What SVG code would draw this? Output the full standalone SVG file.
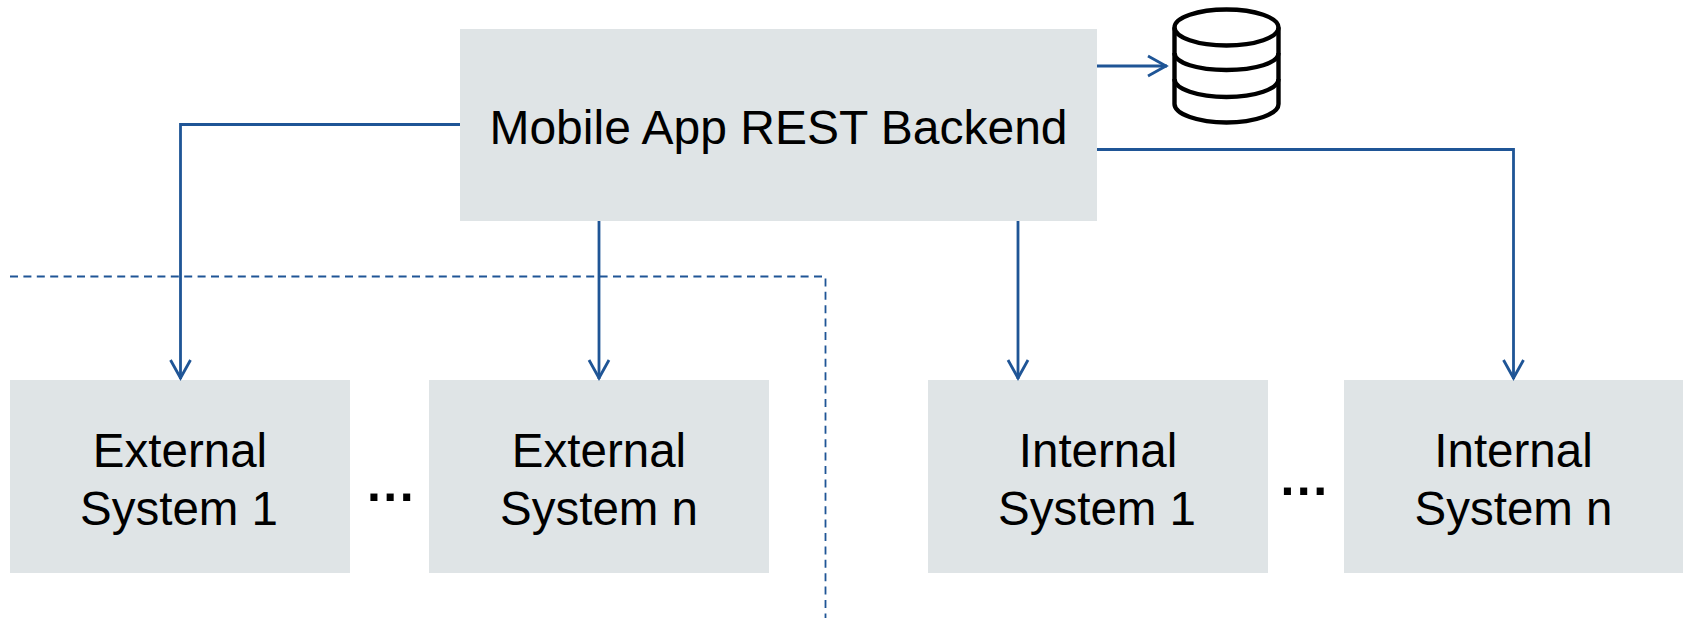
<svg xmlns="http://www.w3.org/2000/svg" width="1683" height="618" viewBox="0 0 1683 618">
<style>
.box{fill:#dfe4e6}
text{font-family:"Liberation Sans",Arial,sans-serif;fill:#000;text-anchor:middle}
.t{font-size:48px}
.s{font-size:47.500px}
.k{font-size:50px;font-weight:bold;letter-spacing:2.500px}
.c{fill:none;stroke:#1f5596;stroke-width:2.8}
.d{fill:none;stroke:#1f5596;stroke-width:1.8;stroke-dasharray:8 5.4}
.db{fill:none;stroke:#000;stroke-width:4.4}
</style>
<defs>
<marker id="a" markerUnits="userSpaceOnUse" markerWidth="24" markerHeight="26" refX="20" refY="12" orient="auto">
<path d="M1 2 L19 12 L1 22" fill="none" stroke="#1f5596" stroke-width="2.8"/>
</marker>
</defs>
<rect width="1683" height="618" fill="#fff"/>
<g id="boundary"><path class="d" d="M10 276.500H825.500V618"/></g>
<g id="main"><rect class="box" x="460" y="29" width="637" height="192"/><text class="t" x="778.500" y="143.500">Mobile App REST Backend</text></g>
<g id="ext1"><rect class="box" x="10" y="380" width="340" height="193"/><text class="s" x="180" y="466.500">External</text><text class="s" x="179" y="525">System 1</text></g>
<g id="extn"><rect class="box" x="429" y="380" width="340" height="193"/><text class="s" x="599" y="466.500">External</text><text class="s" x="599" y="525">System n</text></g>
<g id="int1"><rect class="box" x="928" y="380" width="340" height="193"/><text class="s" x="1098" y="466.500">Internal</text><text class="s" x="1097" y="525">System 1</text></g>
<g id="intn"><rect class="box" x="1344" y="380" width="339" height="193"/><text class="s" x="1513.500" y="466.500">Internal</text><text class="s" x="1513.500" y="525">System n</text></g>
<g id="dots1"><text class="k" x="391.500" y="501">...</text></g>
<g id="dots2"><text class="k" x="1305" y="495">...</text></g>
<g id="database">
<ellipse class="db" cx="1226.500" cy="27.500" rx="52" ry="18"/>
<path class="db" d="M1174.500 27.500V104C1174.500 114 1198 122.500 1226.500 122.500S1278.500 114 1278.500 104V27.500"/>
<path class="db" d="M1174.500 53C1174.500 63 1198 70 1226.500 70S1278.500 63 1278.500 53"/>
<path class="db" d="M1174.500 79C1174.500 89 1198 97 1226.500 97S1278.500 89 1278.500 79"/>
</g>
<g id="connectors">
<path class="c" marker-end="url(#a)" d="M460 124.500H180.500V379"/>
<path class="c" marker-end="url(#a)" d="M599 221V379"/>
<path class="c" marker-end="url(#a)" d="M1018 221V379"/>
<path class="c" marker-end="url(#a)" d="M1097 149.500H1513.500V379"/>
<path class="c" marker-end="url(#a)" d="M1097 66H1167"/>
</g>
</svg>
